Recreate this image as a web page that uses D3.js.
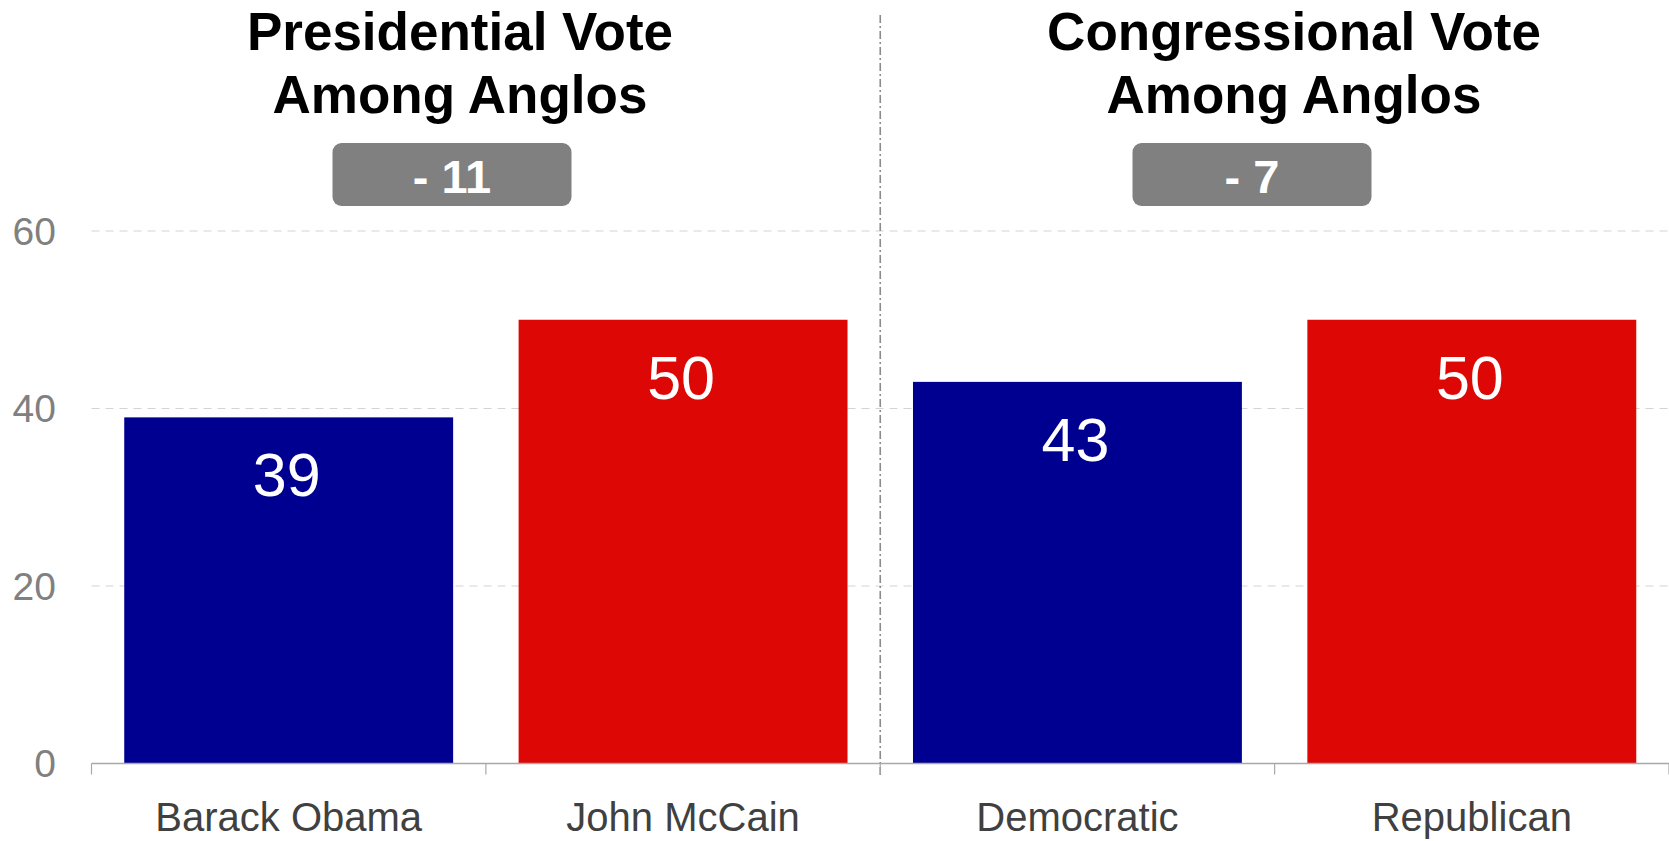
<!DOCTYPE html>
<html>
<head>
<meta charset="utf-8">
<script src="https://cdn.jsdelivr.net/npm/d3@7"></script>
<style>
  html, body { margin: 0; padding: 0; background: #fff; }
  svg { display: block; font-family: "Liberation Sans", Arial, sans-serif; }
</style>
</head>
<body>
<svg id="chart" width="1669" height="841"></svg>
<script>
// ---- data ----
const categories = ["Barack Obama", "John McCain", "Democratic", "Republican"];
const values = [39, 50, 43, 50];
const parties = ["D", "R", "D", "R"];
const groupTitles = [["Presidential Vote", "Among Anglos"], ["Congressional Vote", "Among Anglos"]];
const gapLabels = ["- 11", "- 7"];
const yTicks = [0, 20, 40, 60];

// ---- layout ----
const W = 1669, H = 841;
const left = 91.5, right = 1669;
const y0 = 763.5, yTop = 231;
const colors = { D: "#000090", R: "#DD0806" };

const svg = d3.select("#chart");

const x = d3.scaleBand().domain(categories).range([left, right])
  .paddingInner(0.166).paddingOuter(0.083);
const step = (right - left) / categories.length;
const y = d3.scaleLinear().domain([0, 60]).range([y0, yTop]);

// gridlines
svg.append("g").selectAll("line").data(yTicks.filter(d => d > 0)).join("line")
  .attr("x1", left).attr("x2", right)
  .attr("y1", d => y(d)).attr("y2", d => y(d))
  .attr("stroke", "#d4d4d4").attr("stroke-width", 1.2)
  .attr("stroke-dasharray", "8,6");

// y tick labels
svg.append("g").selectAll("text").data(yTicks).join("text")
  .attr("x", 56).attr("y", d => y(d))
  .attr("dy", "0.35em")
  .attr("text-anchor", "end")
  .attr("font-size", 39).attr("fill", "#808080")
  .text(d => d);

// divider between groups
const divX = left + 2 * step;
svg.append("line")
  .attr("x1", divX).attr("x2", divX).attr("y1", 15).attr("y2", 777)
  .attr("stroke", "#8a8a8a").attr("stroke-width", 1.6)
  .attr("stroke-dasharray", "8,3,2,3");

// bars
svg.append("g").selectAll("rect").data(categories).join("rect")
  .attr("x", d => x(d)).attr("width", x.bandwidth())
  .attr("y", (d, i) => y(values[i]))
  .attr("height", (d, i) => y0 - y(values[i]))
  .attr("fill", (d, i) => colors[parties[i]]);

// value labels
svg.append("g").selectAll("text").data(categories).join("text")
  .attr("x", d => x(d) + x.bandwidth() / 2 - 2)
  .attr("y", (d, i) => y(values[i]) + 79)
  .attr("text-anchor", "middle")
  .attr("font-size", 61).attr("fill", "#fff")
  .text((d, i) => values[i]);

// baseline axis
svg.append("line").attr("x1", left).attr("x2", right).attr("y1", y0).attr("y2", y0)
  .attr("stroke", "#a8a8a8").attr("stroke-width", 1.5);
const bounds = d3.range(categories.length + 1).map(i => left + i * step);
svg.append("g").selectAll("line").data(bounds).join("line")
  .attr("x1", d => d).attr("x2", d => d).attr("y1", y0).attr("y2", y0 + 11)
  .attr("stroke", "#a8a8a8").attr("stroke-width", 1.2);

// category labels
svg.append("g").selectAll("text").data(categories).join("text")
  .attr("x", d => x(d) + x.bandwidth() / 2)
  .attr("y", 831)
  .attr("text-anchor", "middle")
  .attr("font-size", 40).attr("fill", "#404040")
  .text(d => d);

// group titles
const titleX = [460, 1294];
groupTitles.forEach((lines, g) => {
  const t = svg.append("text")
    .attr("text-anchor", "middle")
    .attr("font-size", 53).attr("font-weight", "bold").attr("fill", "#000");
  lines.forEach((ln, k) => {
    t.append("tspan").attr("x", titleX[g]).attr("y", 50 + k * 63).text(ln);
  });
});

// gap boxes
const boxX = [452, 1252];
gapLabels.forEach((lab, g) => {
  svg.append("rect")
    .attr("x", boxX[g] - 119.5).attr("y", 143)
    .attr("width", 239).attr("height", 63)
    .attr("rx", 9).attr("ry", 9)
    .attr("fill", "#808080");
  svg.append("text")
    .attr("x", boxX[g]).attr("y", 193)
    .attr("text-anchor", "middle")
    .attr("font-size", 47).attr("font-weight", "bold").attr("fill", "#fff")
    .text(lab);
});
</script>
</body>
</html>
